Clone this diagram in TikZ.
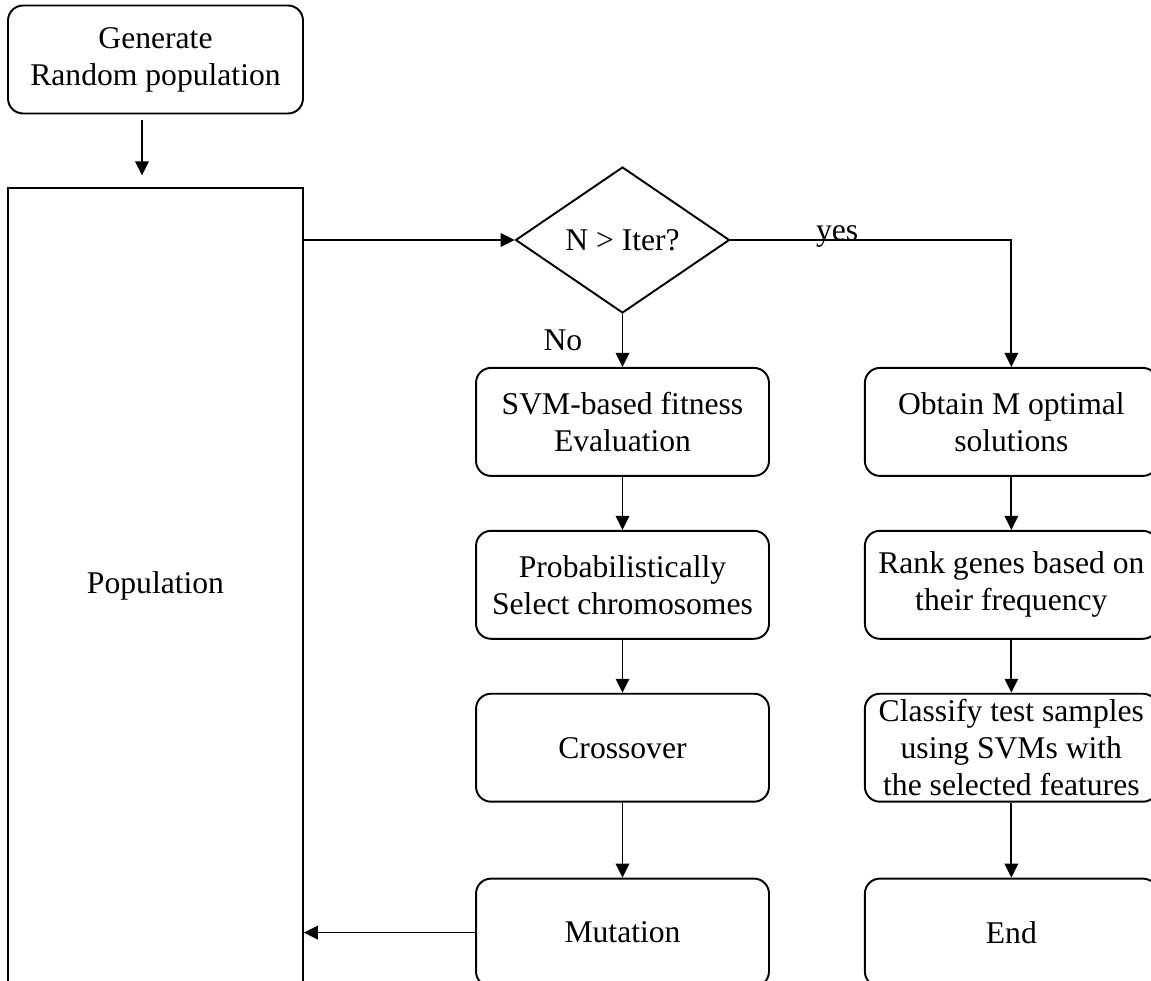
\documentclass[tikz,border=0pt]{standalone}
\usepackage{fontspec}
\setmainfont{Liberation Serif}
\usetikzlibrary{shapes.geometric,arrows.meta,positioning}
\tikzstyle{block} = [rectangle, draw, line width=1.1pt, rounded corners=0.3cm, align=center,
    minimum width=5.86cm, minimum height=2.16cm, inner ysep=0pt, font=\fontsize{18}{21}\selectfont]
\tikzstyle{decision} = [diamond, draw, line width=1.1pt, minimum width=4.28cm, minimum height=2.92cm,
    inner sep=0pt, font=\fontsize{18}{21}\selectfont]
\tikzstyle{pool} = [rectangle, draw, line width=1pt, minimum width=5.9cm, minimum height=15.92cm,
    font=\fontsize{18}{21}\selectfont]
\tikzstyle{line} = [draw, line width=1pt, -{Triangle[length=0.28cm,width=0.27cm]}]
\tikzstyle{branch} = [font=\fontsize{18}{21}\selectfont]

\begin{document}
\begin{tikzpicture}[x=0.02cm, y=-0.02cm, node distance=1.06cm]
      \path[use as bounding box, clip] (0,0) rectangle (1151,980);
      % GA loop
      \node [block, minimum width=5.9cm] (gen) at (155.5,59.5) {Generate\\Random population};
      \node [pool, below=1.46cm of gen] (pop) {Population};
      \node [decision] (cond) at (622.5,240) {N > Iter?};
      \node [block, below= of cond] (svm) {SVM-based fitness\\Evaluation};
      \node [block, below= of svm] (select) {Probabilistically\\Select chromosomes};
      \node [block, below=1.06cm of select] (cross) {Crossover};
      \node [block, below=1.5cm of cross] (mutation) {Mutation};
      % result branch
      \node [block, right=1.88cm of svm] (obtain) {Obtain M optimal\\solutions};
      \node [block, below= of obtain] (rank) {Rank genes based on\\their frequency};
      \node [block, below=1.06cm of rank] (classify) {Classify test samples\\using SVMs with\\the selected features};
      \node [block, below=1.5cm of classify] (finish) {End};
      % Draw edges
      \path [line, shorten <=0.12cm, shorten >=0.24cm] ([xshift=-0.27cm]gen.south) -- ([xshift=-0.27cm]pop.north);
      \path [line] (pop.east |- cond.west) -- (cond.west);
      \path [line] (cond.south) -- node [branch, left=0.67cm] {No} (svm);
      \path [line] (cond.east) -- node [branch, pos=0.38, anchor=base, inner sep=0pt] {yes} (cond.east -| obtain) -- (obtain);
      \path [line] (svm) -- (select);
      \path [line] (select) -- (cross);
      \path [line] (cross) -- (mutation);
      \path [line] (mutation.west) -- (mutation.west -| pop.east);
      \path [line] (obtain) -- (rank);
      \path [line] (rank) -- (classify);
      \path [line] (classify) -- (finish);
  \end{tikzpicture}
\end{document}
